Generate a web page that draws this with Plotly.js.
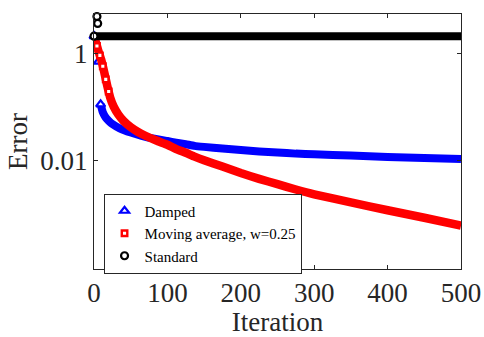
<!DOCTYPE html>
<html>
<head>
<meta charset="utf-8">
<script src="https://cdn.plot.ly/plotly-3.0.1.min.js"></script>
<style>html,body{margin:0;padding:0;background:#fff;}#chart{width:484px;height:337px;}</style>
</head>
<body>
<div id="chart"></div>
<script>
// Damped: dense band (markers at every iteration)
const dampedIter = [9, 12, 16, 20, 25, 35, 50, 65, 80, 100, 112, 125, 137, 150, 175, 200, 225, 250, 275, 300, 350, 400, 450, 500];
const dampedErr  = [0.112, 0.0794, 0.0631, 0.0550, 0.0479, 0.0398, 0.0331, 0.0288, 0.0257, 0.0229, 0.0214, 0.0200, 0.0186, 0.0178, 0.0166, 0.0155, 0.0146, 0.0140, 0.0133, 0.0129, 0.0122, 0.0115, 0.0110, 0.0105];
// Damped: isolated early points
const dampedEarlyIter = [0, 5, 6, 9];
const dampedEarlyErr  = [2.14, 5.6, 0.71, 0.112];

// Moving average, w=0.25
const movingIter = [0, 3, 6, 10, 14, 18, 22, 27, 33, 40, 50, 60, 70, 85, 100, 112, 125, 137, 150, 175, 200, 225, 250, 275, 300, 350, 400, 450, 500];
const movingErr  = [2.14, 1.58, 1.12, 0.759, 0.447, 0.251, 0.151, 0.100, 0.0724, 0.0550, 0.0417, 0.0339, 0.0288, 0.0234, 0.0195, 0.0162, 0.0138, 0.0117, 0.0100, 0.00759, 0.00575, 0.00447, 0.00355, 0.00282, 0.00229, 0.00162, 0.00115, 0.000832, 0.000589];
const movingEarlyIter = [4, 8, 12, 16, 20];
const movingEarlyErr  = [1.40, 0.93, 0.58, 0.33, 0.195];

// Standard
const standardIter = [0, 100, 200, 300, 400, 500];
const standardErr  = [2.14, 2.14, 2.14, 2.14, 2.14, 2.14];
const standardEarlyIter = [0, 4, 5];
const standardEarlyErr  = [2.14, 5.0, 3.7];

const seriesNames = ['Damped', 'Moving average, w=0.25', 'Standard'];
const xTicks = [0, 100, 200, 300, 400, 500];
const yTicks = [0.01, 1];
const yTickText = ['0.01', '1'];

const FONT = '"Liberation Serif", "Times New Roman", serif';
const AX = '#262626';

const traces = [
  {x: dampedIter, y: dampedErr, mode: 'lines', line: {color: '#0000ff', width: 8, shape: 'spline', smoothing: 0.5}, showlegend: false, hoverinfo: 'skip'},
  {x: dampedEarlyIter, y: dampedEarlyErr, mode: 'markers', name: seriesNames[0], cliponaxis: false,
   marker: {symbol: 'triangle-up', size: 8, color: '#ffffff', line: {color: '#0000ff', width: 2.2}}},
  {x: movingIter, y: movingErr, mode: 'lines', line: {color: '#ff0000', width: 8.5, shape: 'spline', smoothing: 0.5}, showlegend: false, hoverinfo: 'skip'},
  {x: movingEarlyIter, y: movingEarlyErr, mode: 'markers', name: seriesNames[1], cliponaxis: false,
   marker: {symbol: 'square', size: 5.5, color: '#ffffff', line: {color: '#ff0000', width: 2.4}}},
  {x: standardIter, y: standardErr, mode: 'lines', line: {color: '#000000', width: 8}, showlegend: false, hoverinfo: 'skip'},
  {x: standardEarlyIter, y: standardEarlyErr, mode: 'markers', name: seriesNames[2], cliponaxis: false,
   marker: {symbol: 'circle', size: 7, color: '#ffffff', line: {color: '#000000', width: 2.2}}}
];

const layout = {
  width: 484, height: 337,
  margin: {l: 93.5, r: 23, t: 13.5, b: 68, pad: 0},
  paper_bgcolor: '#ffffff', plot_bgcolor: '#ffffff',
  font: {family: FONT, size: 27, color: AX},
  showlegend: true,
  xaxis: {
    range: [0, 500], tickvals: xTicks, ticktext: xTicks.map(String),
    ticks: 'inside', ticklen: 4, tickwidth: 1, tickcolor: AX,
    showline: true, linecolor: AX, linewidth: 1, mirror: 'ticks',
    showgrid: false, zeroline: false,
    tickfont: {family: FONT, size: 27, color: AX},
    title: {text: 'Iteration', font: {family: FONT, size: 27, color: AX}, standoff: 7}
  },
  yaxis: {
    type: 'log', range: [-4.043, 0.746],
    tickvals: yTicks, ticktext: yTickText,
    ticks: 'inside', ticklen: 4, tickwidth: 1, tickcolor: AX,
    showline: true, linecolor: AX, linewidth: 1, mirror: 'ticks',
    showgrid: false, zeroline: false,
    tickfont: {family: FONT, size: 27, color: AX},
    title: {text: 'Error', font: {family: FONT, size: 27, color: AX}, standoff: 4}
  },
  legend: {
    x: 0.026, y: 0.296, xanchor: 'left', yanchor: 'top',
    bgcolor: '#ffffff', bordercolor: AX, borderwidth: 1,
    font: {family: FONT, size: 15, color: '#000000'},
    itemwidth: 30, tracegroupgap: 0
  }
};

Plotly.newPlot('chart', traces, layout, {displayModeBar: false, staticPlot: true});
</script>
</body>
</html>
